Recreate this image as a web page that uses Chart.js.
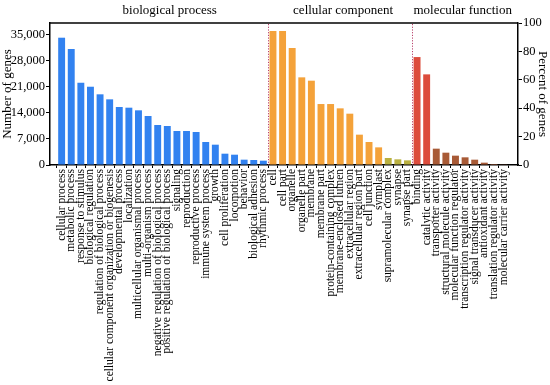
<!DOCTYPE html>
<html><head><meta charset="utf-8">
<script src="https://cdn.jsdelivr.net/npm/chart.js@4.4.0/dist/chart.umd.min.js"></script>
<style>html,body{margin:0;padding:0;background:#fff;}#wrap{width:550px;height:385px;}</style>
</head><body><div id="wrap"><canvas id="c" width="550" height="385"></canvas></div>
<script>
const bpCategories = ['cellular process','metabolic process','response to stimulus','biological regulation','regulation of biological process','cellular component organization or biogenesis','developmental process','localization','multicellular organismal process','multi-organism process','negative regulation of biological process','positive regulation of biological process','signaling','reproduction','reproductive process','immune system process','growth','cell proliferation','locomotion','behavior','biological adhesion','rhythmic process'];
const bpValues = [34200,31160,22100,21030,18990,17640,15580,15400,14690,13160,10740,10480,9130,9130,8860,6180,5460,3040,2770,1430,1340,1160];
const ccCategories = ['cell','cell part','organelle','organelle part','membrane','membrane part','protein-containing complex','membrane-enclosed lumen','extracellular region','extracellular region part','cell junction','symplast','supramolecular complex','synapse','synapse part'];
const ccValues = [36000,36000,31430,23550,22650,16380,16380,15220,13790,8150,6180,4740,1880,1520,1250];
const mfCategories = ['binding','catalytic activity','transporter activity','structural molecule activity','molecular function regulator','transcription regulator activity','signal transducer activity','antioxidant activity','translation regulator activity','molecular carrier activity'];
const mfValues = [29000,24350,4390,3310,2510,2060,1430,630,270,180];
const groupTitles = ['biological process','cellular component','molecular function'];
const countTicks = [0,7000,14000,21000,28000,35000];
const percentTicks = [0,20,40,60,80,100];
const countMax = 38150;

const categories = bpCategories.concat(ccCategories, mfCategories);
const values = bpValues.concat(ccValues, mfValues);
const groupSizes = [bpCategories.length, ccCategories.length, mfCategories.length];
function groupOf(i){ return i < groupSizes[0] ? 0 : (i < groupSizes[0]+groupSizes[1] ? 1 : 2); }
function barColor(i) {
  const g = groupOf(i);
  if (g === 0) return '#3282f0';
  if (g === 1) return values[i] < 2000 ? '#b9b040' : '#f4a23a';
  const k = i - groupSizes[0] - groupSizes[1];
  return k < 2 ? '#dc4c3c' : '#a85a36';
}

const FONT = "'Liberation Serif', 'Times New Roman', serif";

const decor = {
  id: 'decor',
  afterDraw(chart) {
    const {ctx, chartArea: a, scales} = chart;
    const xs = scales.x;
    ctx.save();
    ctx.strokeStyle = '#000'; ctx.lineWidth = 1.5;
    ctx.beginPath(); ctx.moveTo(a.left, a.top); ctx.lineTo(a.right, a.top); ctx.stroke();
    ctx.strokeStyle = '#b8406a'; ctx.lineWidth = 1; ctx.setLineDash([1.2, 1.5]);
    let start = 0;
    const bounds = [];
    for (let g = 0; g < groupSizes.length; g++) {
      bounds.push([start, start + groupSizes[g] - 1]);
      start += groupSizes[g];
    }
    for (let g = 0; g < bounds.length - 1; g++) {
      const x = Math.round(xs.getPixelForValue(bounds[g][1] + 0.5)) + 0.5;
      ctx.beginPath(); ctx.moveTo(x, a.top + 1); ctx.lineTo(x, a.bottom); ctx.stroke();
    }
    ctx.setLineDash([]);
    ctx.fillStyle = '#000'; ctx.font = '13px ' + FONT;
    ctx.textAlign = 'center'; ctx.textBaseline = 'middle';
    const shift = [0.75, 0.3, 0.25];
    for (let g = 0; g < bounds.length; g++) {
      const cx = xs.getPixelForValue((bounds[g][0] + bounds[g][1]) / 2 + shift[g]);
      ctx.fillText(groupTitles[g], cx, 11);
    }
    ctx.restore();
  }
};

new Chart(document.getElementById('c'), {
  type: 'bar',
  data: {
    datasets: [{
      data: values.map((v, i) => ({x: i, y: v})),
      backgroundColor: (c) => barColor(c.dataIndex),
      barPercentage: 0.72,
      categoryPercentage: 1.0,
      yAxisID: 'y'
    }]
  },
  options: {
    responsive: false,
    devicePixelRatio: 1,
    animation: false,
    layout: {padding: {top: 23, left: 0, right: 0, bottom: 0}},
    plugins: {legend: {display: false}, tooltip: {enabled: false}},
    scales: {
      x: {
        type: 'linear',
        min: -0.693, max: 46.99,
        afterBuildTicks: (s) => { s.ticks = categories.map((c, i) => ({value: i})); },
        afterFit: (s) => { s.height = 220; },
        grid: {display: true, drawOnChartArea: false, drawTicks: true, tickLength: 3, color: '#000'},
        border: {display: true, color: '#000', width: 1.5},
        ticks: {
          autoSkip: false, minRotation: 90, maxRotation: 90, padding: 1,
          color: '#000', font: {family: FONT, size: 11.5},
          callback: (v) => categories[v]
        }
      },
      y: {
        position: 'left', min: 0, max: countMax,
        afterBuildTicks: (s) => { s.ticks = countTicks.map(v => ({value: v})); },
        afterFit: (s) => { s.width = 50; },
        grid: {display: true, drawOnChartArea: false, drawTicks: true, tickLength: 4, color: '#000'},
        border: {display: true, color: '#000', width: 1.5},
        ticks: {color: '#000', padding: 1, font: {family: FONT, size: 12.5},
          callback: (v) => v.toLocaleString('en-US')},
        title: {display: true, text: 'Number of genes', color: '#000', font: {family: FONT, size: 13}, padding: 0}
      },
      y2: {
        position: 'right', min: 0, max: 100,
        afterBuildTicks: (s) => { s.ticks = percentTicks.map(v => ({value: v})); },
        afterFit: (s) => { s.width = 32; },
        grid: {display: true, drawOnChartArea: false, drawTicks: true, tickLength: 4, color: '#000'},
        border: {display: true, color: '#000', width: 1.5},
        ticks: {color: '#000', padding: 1, font: {family: FONT, size: 12.5}},
        title: {display: true, text: 'Percent of genes', color: '#000', font: {family: FONT, size: 13}, padding: 0}
      }
    }
  },
  plugins: [decor]
});
</script></body></html>
